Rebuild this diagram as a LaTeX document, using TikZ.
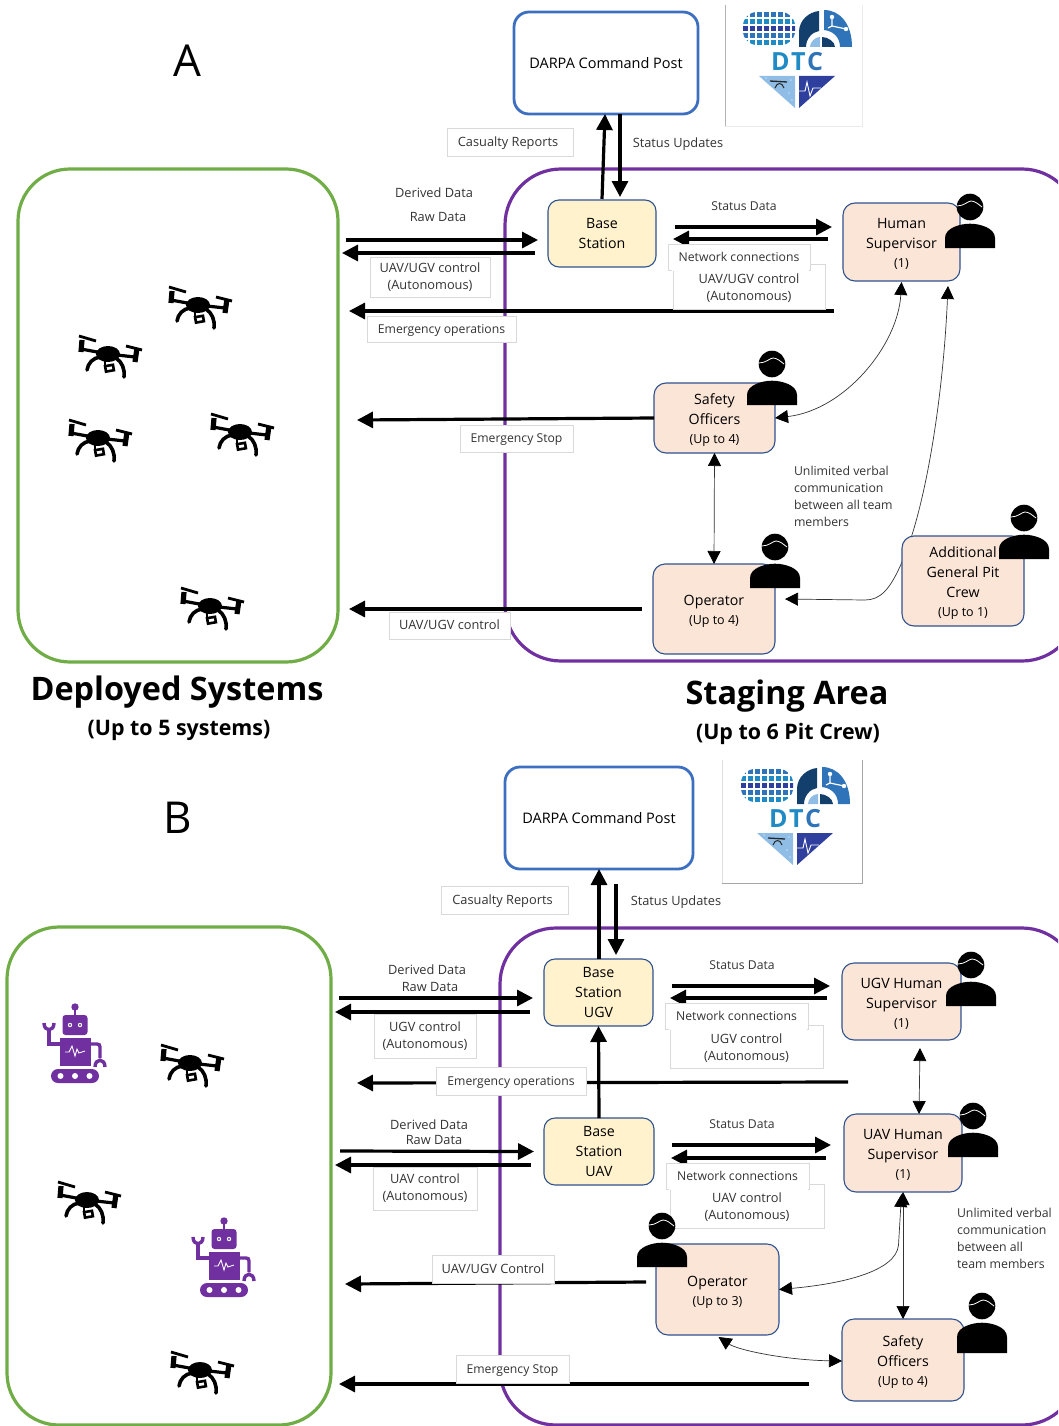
\documentclass[tikz,border=0pt]{standalone}
\usepackage{fontspec}
\setmainfont{Open Sans}
\usetikzlibrary{arrows.meta}
\usetikzlibrary{calc}

\definecolor{postblue}{HTML}{3D6FC0}
\definecolor{edgeblue}{HTML}{2F528F}
\definecolor{areagreen}{HTML}{70AD47}
\definecolor{areapurple}{HTML}{7030A0}
\definecolor{basefill}{HTML}{FFF2CC}
\definecolor{crewfill}{HTML}{FBE5D6}
\definecolor{labelgray}{HTML}{D9D9D9}
\definecolor{textgray}{HTML}{333333}
\definecolor{logolight}{HTML}{8FBDE6}
\definecolor{logomid}{HTML}{2F73B8}
\definecolor{logodark}{HTML}{123F6B}
\definecolor{logodeep}{HTML}{2E3F9E}
\definecolor{logosky}{HTML}{1F8AC4}

\newcommand{\upto}[1]{{\fontsize{12.5}{18}\selectfont #1}}
\newcommand{\lowered}[1]{\raisebox{-2pt}[\height][\depth]{\begin{tabular}{@{}c@{}}#1\end{tabular}}}

\tikzset{
    postbox/.style={draw=postblue, line width=2.8pt, rounded corners=15pt, inner sep=0pt, outer sep=0pt, font=\fontsize{14.5}{18}\selectfont},
    basebox/.style={draw=edgeblue, fill=basefill, line width=1.1pt, rounded corners=11pt, inner sep=0pt, outer sep=0pt, align=center, font=\fontsize{14.2}{20}\selectfont},
    crewbox/.style={draw=edgeblue, fill=crewfill, line width=1.1pt, rounded corners=12pt, inner sep=0pt, outer sep=0pt, align=center, font=\fontsize{14.2}{20}\selectfont},
    stackbox/.style={draw=labelgray, fill=white, line width=0.7pt, inner sep=0pt, outer sep=0pt, align=center, text=textgray, font=\fontsize{12.8}{17}\selectfont},
    tagbox/.style={stackbox, text height=11.2pt, text depth=2.5pt},
    note/.style={inner sep=0pt, outer sep=0pt, text=textgray, font=\fontsize{12.8}{17}\selectfont, text height=11.2pt, text depth=2.5pt},
    narrowtext/.style={font=\fontsize{12.2}{17}\selectfont},
    sidenote/.style={inner sep=0pt, outer sep=0pt, text=textgray, font=\fontsize{12.3}{17}\selectfont, align=left, anchor=north west},
    flow/.style={line width=3.2pt, -{Triangle[length=16pt,width=16pt]}},
    verbal/.style={line width=0.7pt, draw=black!80, {Triangle[length=13pt,width=13pt,fill=black,color=black]}-{Triangle[length=13pt,width=13pt,fill=black,color=black]}},
    bigletter/.style={inner sep=0pt, font=\fontsize{44}{44}\selectfont},
    areatitle/.style={inner sep=0pt, font=\bfseries\fontsize{32.4}{36}\selectfont},
    areacount/.style={inner sep=0pt, font=\bfseries\fontsize{21.4}{26}\selectfont},
    person/.pic={
        \fill[black] (0,0) circle (13.3);
        \fill[black] (-25,#1) -- (-25,31) .. controls (-25,21) and (-10,16.7) .. (0,16.7) .. controls (10,16.7) and (25,21) .. (25,31) -- (25,#1) -- cycle;
        \draw[white, line width=0.8pt] (-13,-1) .. controls (-6,-1) and (-2,-6) .. (1,-6) .. controls (5,-6) and (8,-3) .. (12,0);
    },
    drone/.pic={
        \fill[black] (0,0) ellipse (12 and 8);
        \draw[black, line width=3.2pt] (-27,-5) -- (0,0) -- (27,3);
        \draw[black, line width=5.2pt] (-26,-14) -- (-27,-2);
        \draw[black, line width=5.2pt] (29,-6) -- (27,8);
        \draw[black, line width=2.8pt] (-29,-18) -- (-12,-13);
        \draw[black, line width=2.8pt] (18,-8) -- (34,-4);
        \draw[black, line width=3.6pt, line cap=round] (-21,16) .. controls (-20,9) and (-15,4) .. (-8,3);
        \draw[black, line width=3.6pt, line cap=round] (16,23) .. controls (17,15) and (14,8) .. (8,4);
        \draw[black, line width=2.6pt, rotate=10] (-5,11.5) rectangle (3,17);
        \draw[black, line width=2.6pt] (-3,5) -- (-3,11);
    },
    robot/.pic={
        \fill[areapurple] (0,-36) circle (3.7);
        \fill[areapurple] (-1,-36) rectangle (1,-27);
        \fill[areapurple, rounded corners=3pt] (-12.5,-28) rectangle (12.5,-8);
        \fill[white] (-5,-18) circle (2.2);
        \fill[white] (5,-18) circle (2.2);
        \fill[areapurple] (-5,-18) circle (1.1);
        \fill[areapurple] (5,-18) circle (1.1);
        \fill[areapurple] (-15.5,-5) rectangle (16,23);
        \draw[white, line width=0.9pt] (-10,9) -- (-6,9) -- (-3,3) -- (0,13) -- (2,6) -- (4,10) -- (10,8);
        \fill[areapurple, rounded corners=7pt] (-24,26) rectangle (24,40);
        \fill[white] (-14.5,33) circle (3);
        \fill[white] (0,33) circle (3);
        \fill[white] (14.5,33) circle (3);
        \draw[areapurple, line width=3.4pt] (-15.5,1) -- (-26,1) -- (-26,-12);
        \draw[areapurple, line width=3.4pt] (-31,-20) .. controls (-31,-11) and (-21,-11) .. (-21,-20);
        \draw[areapurple, line width=3.4pt] (16,1) -- (22,1) .. controls (24,1) and (25,2) .. (25,4) -- (25,15);
        \draw[areapurple, line width=3.4pt] (20,24) .. controls (20,15) and (30,15) .. (30,24);
    },
    dtclogo/.pic={
        % Brain lobe
        \begin{scope}
            \clip[rounded corners=14pt] (-54,-50) rectangle (-2,-17);
            \foreach \i in {0,...,7} {
                \foreach \j in {0,...,4} {
                    \pgfmathtruncatemacro{\shade}{mod(\i*3+\j*5,3)}
                    \ifcase\shade
                        \fill[logomid] ({-54+\i*7},{-50+\j*7}) rectangle ++(4.8,4.8);
                    \or
                        \fill[logodeep] ({-54+\i*7},{-50+\j*7}) rectangle ++(4.8,4.8);
                    \or
                        \fill[logosky] ({-54+\i*7},{-50+\j*7}) rectangle ++(4.8,4.8);
                    \fi
                }
            }
        \end{scope}
        % Network lobe
        \fill[logodark] (2,-15) -- (2,-30) .. controls (2,-42) and (12,-50) .. (22,-51) -- (22,-31) .. controls (15,-30) and (9,-23) .. (9,-15) -- cycle;
        \fill[logolight] (13,-15) .. controls (13,-20) and (18,-25) .. (23,-25) -- (23,-15) -- cycle;
        \fill[logodark] (25,-25) .. controls (31,-25) and (38,-20) .. (38,-15) -- (25,-15) -- cycle;
        \fill[logomid] (27,-52) .. controls (43,-52) and (55,-38) .. (55,-15) -- (43,-15) .. controls (43,-25) and (36,-31) .. (27,-32) -- cycle;
        \draw[white, line width=1.2pt] (35,-44) -- (35,-36) -- (49,-33);
        \draw[white, line width=1.2pt] (35,-36) -- (31,-34);
        \fill[white] (35,-45) circle (2.2);
        \fill[white] (49,-33) circle (2.2);
        % Letters
        \node[inner sep=0pt, font=\bfseries\fontsize{25}{25}\selectfont] (-letters) at (0,0) {\textcolor{logosky}{D\kern1.5pt T\kern1.5pt}\textcolor{logomid}{C}};
        % Heart tip
        \fill[logolight] (-38,14) -- (-2,14) -- (-2,46) -- cycle;
        \draw[black!85, line width=1.3pt] (-27,19) -- (-10,20);
        \draw[black!85, line width=1pt] (-22,26) .. controls (-20,20) and (-15,20) .. (-13,26);
        \foreach \x/\y in {-31/16, -6/18, -8/31, -5/38, -20/31} {
            \fill[white] (\x,\y) circle (0.7);
        }
        \fill[logodeep] (2,14) -- (38,14) -- (2,46) -- cycle;
        \draw[white, line width=0.9pt] (2,29) -- (8,29) -- (10,20) -- (13,34) -- (16,26) -- (24,26);
    },
}

\begin{document}
\begin{tikzpicture}[x=1pt, y=-1pt]
    \useasboundingbox (0,0) rectangle (1058,1426);
    \clip (0,0) rectangle (1058,1426);

    % Panel A: areas
    \node[bigletter] (letterA) at (187,61) {A};
    \draw[areagreen, line width=3.2pt, rounded corners=52pt] (18,169) rectangle (338,662);
    \draw[areapurple, line width=3.2pt, rounded corners=56pt] (505,169) rectangle (1078,661);
    \node[areatitle] (deployedA) at (177,692) {Deployed Systems};
    \node[areacount] (deployedcountA) at (179,730) {(Up to 5 systems)};
    \node[areatitle] (stagingA) at (787,696) {Staging Area};
    \node[areacount] (stagingcountA) at (788,734) {(Up to 6 Pit Crew)};

    % Logo A
    \draw[black!30, line width=0.8pt] (725,5) -- (725,126);
    \draw[black!8, line width=0.8pt] (725,126) -- (862,126) -- (862,5);
    \pic (logoA) at (797,62) {dtclogo};

    % Drones A
    \foreach \x/\y in {198/305, 108/354, 98/438, 240/432, 210/606} {
        \pic at (\x,\y) {drone};
    }

    % Panel A: nodes
    \node[postbox, minimum width=184pt, minimum height=102pt] (postA) at (606,63) {DARPA Command Post};
    \node[basebox, minimum width=108pt, minimum height=67pt] (baseA) at (602,233.5) {Base\\Station};
    \node[crewbox, minimum width=117pt, minimum height=78pt] (supA) at (901.5,242) {\lowered{Human\\Supervisor\\[-1pt]\upto{(1)}}};
    \node[crewbox, minimum width=121pt, minimum height=70pt] (safetyA) at (714.5,418) {\lowered{Safety\\Officers\\[-1pt]\upto{(Up to 4)}}};
    \node[crewbox, minimum width=122pt, minimum height=90pt] (operatorA) at (714,609) {\lowered{Operator\\[-1pt]\upto{(Up to 4)}}};
    \coordinate (crewdropA) at (349,609);
    \coordinate (stopendA) at (357,420);
    \coordinate (opsstartA) at (834,311);
    \coordinate (opsendA) at (349,311);
    \coordinate (derivedendA) at (346,240);
    \coordinate (rawendA) at (342,253);

    % Panel A: connectors
    \draw[flow] ([yshift=1pt]baseA.north) -- ([xshift=-1pt]postA.south);
    \draw[flow] ([xshift=14pt]postA.south) -- ([xshift=18pt,yshift=3pt]baseA.north);
    \draw[flow] (derivedendA) -- ([xshift=-10pt,yshift=-6.5pt]baseA.west);
    \draw[flow] ([xshift=-13pt,yshift=-19.5pt]baseA.west) -- (rawendA);
    \draw[flow] ([xshift=19pt,yshift=6.5pt]baseA.east) -- ([xshift=-11pt,yshift=15pt]supA.west);
    \draw[flow] ([xshift=-15pt,yshift=3pt]supA.west) -- ([xshift=17pt,yshift=-5.5pt]baseA.east);
    \draw[flow] (opsstartA) -- (opsendA);
    \draw[flow] (safetyA.west) -- (stopendA);
    \draw[flow] ([xshift=-11pt]operatorA.west) -- (crewdropA);
    \draw[verbal] ([yshift=-1pt]supA.south) .. controls (898,345) and (845,410) .. (safetyA.east);
    \draw[verbal] (safetyA.south) -- (operatorA.north);
    \draw[verbal] ([xshift=46.5pt,yshift=-5pt]supA.south) .. controls (943,400) and (925,510) .. (902,562) .. controls (890,590) and (880,600) .. (865,600) -- ([xshift=10pt,yshift=10pt]operatorA.east);

    % Panel A: crew box drawn over its connector
    \node[crewbox, minimum width=122pt, minimum height=90pt] (pitA) at (963,581) {\lowered{Additional\\General Pit\\Crew\\[-1pt]\upto{(Up to 1)}}};

    % Panel A: labels
    \node[tagbox, minimum width=126pt, minimum height=28pt] (casualtyA) at (510,142) {Casualty Reports\hspace*{4pt}};
    \node[note] (statusA) at (678,143) {Status Updates};
    \node[note] (derivedA) at (434,193) {Derived Data};
    \node[note] (rawA) at (438,217) {Raw Data};
    \node[stackbox, minimum width=120pt, minimum height=40pt] (controlA) at (430,277) {UAV/UGV control\\(Autonomous)};
    \node[note, narrowtext] (statusdataA) at (744,206) {Status Data};
    \node[stackbox, minimum width=152pt, minimum height=45pt] (netctrlA) at (749,286.5) {\lowered{UAV/UGV control\\(Autonomous)}};
    \node[tagbox, narrowtext, minimum width=142pt, minimum height=26pt] (netA) at (739,257) {Network connections};
    \fill[white] ([xshift=-0.6pt,yshift=0.5pt]netctrlA.north west) rectangle ([xshift=-0.6pt,yshift=-0.5pt]netA.south east);
    \node[tagbox, narrowtext, minimum width=149pt, minimum height=26pt] (opsA) at (441.5,329) {Emergency operations};
    \node[tagbox, narrowtext, minimum width=113pt, minimum height=27pt] (stopA) at (516.5,438.5) {Emergency Stop};
    \node[tagbox, minimum width=121pt, minimum height=27pt] (dropA) at (449.5,625.5) {UAV/UGV control};
    \node[sidenote] (verbalA) at (794,466) {Unlimited verbal\\communication\\between all team\\members};

    % Panel A: people
    \foreach \x/\y in {970/207, 772/364, 775/547, 1024/518} {
        \pic at (\x,\y) {person=41};
    }

    % Panel B: areas
    \node[bigletter] (letterB) at (178,818) {B};
    \draw[areagreen, line width=3.2pt, rounded corners=52pt] (7,927) rectangle (331,1425);
    \draw[areapurple, line width=3.2pt, rounded corners=56pt] (500,928) rectangle (1078,1425);

    % Logo B
    \draw[black!12, line width=0.8pt] (722,760) -- (722,883);
    \draw[black!35, line width=0.8pt] (722,883) -- (862,883) -- (862,760);
    \pic (logoB) at (795,819) {dtclogo};

    % Drones and robots B
    \foreach \x/\y in {190/1063, 87/1200, 200/1370} {
        \pic at (\x,\y) {drone};
    }
    \foreach \x/\y in {75/1043, 224/1257} {
        \pic at (\x,\y) {robot};
    }

    % Panel B: nodes
    \node[postbox, minimum width=188pt, minimum height=102pt] (postB) at (599,818) {DARPA Command Post};
    \node[basebox, minimum width=109pt, minimum height=67pt] (baseugvB) at (598.5,992.5) {Base\\Station\\UGV};
    \node[basebox, minimum width=110pt, minimum height=67pt] (baseuavB) at (599,1151.5) {Base\\Station\\UAV};
    \node[crewbox, minimum width=119pt, minimum height=77pt] (ugvsupB) at (901.5,1001.5) {\lowered{UGV Human\\Supervisor\\[-1pt]\upto{(1)}}};
    \node[crewbox, minimum width=118pt, minimum height=78pt] (uavsupB) at (903,1153) {\lowered{UAV Human\\Supervisor\\[-1pt]\upto{(1)}}};
    \node[crewbox, minimum width=123pt, minimum height=91pt] (operatorB) at (717.5,1289.5) {\lowered{Operator\\[-1pt]\upto{(Up to 3)}}};
    \node[crewbox, minimum width=122pt, minimum height=82pt] (safetyB) at (903,1360) {\lowered{Safety\\Officers\\[-1pt]\upto{(Up to 4)}}};
    \coordinate (derivedugvendB) at (339,998);
    \coordinate (rawugvendB) at (335,1012);
    \coordinate (deriveduavendB) at (340,1151);
    \coordinate (rawuavendB) at (335,1165);
    \coordinate (opsstartB) at (848,1082);
    \coordinate (opsendB) at (357,1083);
    \coordinate (dropendB) at (345,1284);
    \coordinate (stopendB) at (339,1384);

    % Panel B: connectors
    \draw[flow] ([xshift=0.5pt]baseugvB.north) -- (postB.south);
    \draw[flow] ([xshift=17pt,yshift=-15pt]postB.south) -- ([xshift=17.5pt,yshift=4pt]baseugvB.north);
    \draw[flow] (derivedugvendB) -- ([xshift=-11pt,yshift=-5.5pt]baseugvB.west);
    \draw[flow] ([xshift=-14pt,yshift=-19.5pt]baseugvB.west) -- (rawugvendB);
    \draw[flow] ([xshift=19pt,yshift=6.5pt]baseugvB.east) -- ([xshift=-12pt,yshift=15.5pt]ugvsupB.west);
    \draw[flow] ([xshift=-15pt,yshift=3.5pt]ugvsupB.west) -- ([xshift=17pt,yshift=-5.5pt]baseugvB.east);
    \draw[flow] (opsstartB) -- (opsendB);
    \draw[flow] (baseuavB.north) -- (baseugvB.south);
    \draw[flow] (deriveduavendB) -- ([xshift=-10pt]baseuavB.west);
    \draw[flow] ([xshift=-13pt,yshift=-13.5pt]baseuavB.west) -- (rawuavendB);
    \draw[flow] ([xshift=18pt,yshift=6.5pt]baseuavB.east) -- ([xshift=-13pt,yshift=8pt]uavsupB.west);
    \draw[flow] ([xshift=-18pt,yshift=-5pt]uavsupB.west) -- ([xshift=17pt,yshift=-6.5pt]baseuavB.east);
    \draw[flow] ([xshift=-10pt,yshift=7.5pt]operatorB.west) -- (dropendB);
    \draw[flow] ([xshift=-33pt,yshift=-24pt]safetyB.west) -- (stopendB);
    \draw[verbal] ([xshift=18.5pt,yshift=-8pt]ugvsupB.south) -- ([xshift=16pt]uavsupB.north);
    \draw[verbal] (uavsupB.south) -- (safetyB.north);
    \draw[verbal] ([xshift=-1.5pt,yshift=-2pt]uavsupB.south) -- (898.5,1245) .. controls (896,1272) and (840,1284) .. (operatorB.east);
    \draw[verbal] ([xshift=1pt,yshift=-2pt]operatorB.south) .. controls (738,1350) and (785,1360) .. ([yshift=-1pt]safetyB.west);

    % Panel B: labels
    \node[tagbox, minimum width=127pt, minimum height=28pt] (casualtyB) at (504.5,900) {Casualty Reports\hspace*{4pt}};
    \node[note] (statusB) at (676,901) {Status Updates};
    \node[note] (derivedugvB) at (427,970) {Derived Data};
    \node[note] (rawugvB) at (430,987) {Raw Data};
    \node[stackbox, minimum width=102pt, minimum height=44pt] (controlugvB) at (425,1036) {UGV control\\(Autonomous)};
    \node[note, narrowtext] (statusdataugvB) at (742,965) {Status Data};
    \node[stackbox, minimum width=153pt, minimum height=43pt] (netctrlugvB) at (746.5,1046.5) {\lowered{UGV control\\(Autonomous)}};
    \node[tagbox, narrowtext, minimum width=143pt, minimum height=26pt] (netugvB) at (736.5,1016) {Network connections};
    \fill[white] ([xshift=-0.6pt,yshift=0.5pt]netctrlugvB.north west) rectangle ([xshift=-0.6pt,yshift=-0.5pt]netugvB.south east);
    \node[tagbox, narrowtext, minimum width=150pt, minimum height=28pt] (opsB) at (511,1081) {Emergency operations};
    \node[note] (deriveduavB) at (429,1125) {Derived Data};
    \node[note] (rawuavB) at (434,1140) {Raw Data};
    \node[stackbox, minimum width=104pt, minimum height=43pt] (controluavB) at (425,1188.5) {UAV control\\(Autonomous)};
    \node[note, narrowtext] (statusdatauavB) at (742,1124) {Status Data};
    \node[stackbox, minimum width=154pt, minimum height=44pt] (netctrluavB) at (747,1206) {\lowered{UAV control\\(Autonomous)}};
    \node[tagbox, narrowtext, minimum width=143pt, minimum height=26pt] (netuavB) at (737.5,1176) {Network connections};
    \fill[white] ([xshift=-0.6pt,yshift=0.5pt]netctrluavB.north west) rectangle ([xshift=-0.6pt,yshift=-0.5pt]netuavB.south east);
    \node[tagbox, minimum width=122pt, minimum height=28pt] (dropB) at (493,1269) {UAV/UGV Control};
    \node[tagbox, narrowtext, minimum width=113pt, minimum height=28pt] (stopB) at (512.5,1369) {Emergency Stop};
    \node[sidenote] (verbalB) at (957,1208) {Unlimited verbal\\communication\\between all\\team members};

    % Panel B: people
    \foreach \x/\y/\b in {971/965/41, 973/1116/41, 662/1226/41, 982/1306/47} {
        \pic at (\x,\y) {person=\b};
    }
\end{tikzpicture}
\end{document}
